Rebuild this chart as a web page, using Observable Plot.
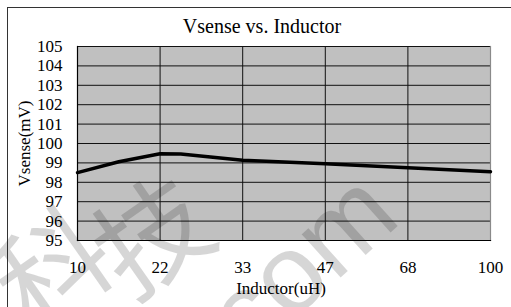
<!DOCTYPE html>
<html>
<head>
<meta charset="utf-8">
<script src="https://cdn.jsdelivr.net/npm/d3@7"></script>
<script src="https://cdn.jsdelivr.net/npm/@observablehq/plot@0.6"></script>
<style>
  html, body { margin: 0; padding: 0; background: #fff; }
  #wrap { position: relative; width: 511px; height: 307px; overflow: hidden; }
  #frame { position: absolute; left: 7px; top: 7px; width: 600px; height: 400px;
           border-left: 1px solid #333; border-top: 1px solid #333; pointer-events: none; }
  #wm { position: absolute; left: 0; top: 0; pointer-events: none; }
  #chart { position: absolute; left: 0; top: 0; }
</style>
</head>
<body>
<div id="wrap">
  <div id="frame"></div>
  <div id="chart"></div>
  <svg id="wm" width="511" height="307">
    <g fill="#000" fill-opacity="0.16" font-family="Noto Sans CJK SC" font-size="112">
      <text x="48" y="262" text-anchor="middle" dominant-baseline="central" transform="rotate(-35 48 262)">科</text>
      <text x="148" y="230" text-anchor="middle" dominant-baseline="central" transform="rotate(-35 148 230)">技</text>
    </g>
    <g fill="#000" fill-opacity="0.16" font-family="Liberation Sans" font-size="110">
      <text x="300" y="262" text-anchor="middle" dominant-baseline="central" transform="rotate(-42 300 262)">com</text>
    </g>
  </svg>
</div>
<script>
const title = "Vsense vs. Inductor";
const xLabel = "Inductor(uH)";
const yLabel = "Vsense(mV)";
const inductorLabels = ["10", "22", "33", "47", "68", "100"];
const yTicks = [95, 96, 97, 98, 99, 100, 101, 102, 103, 104, 105];
// curve points: position along the category axis (0 = "10" … 5 = "100") and Vsense in mV
const pointPos = [0, 0.5, 1, 1.25, 2, 3, 4, 5];
const vsense = [98.5, 99.06, 99.47, 99.46, 99.14, 98.96, 98.75, 98.55];

const points = pointPos.map((p, i) => ({pos: p, v: vsense[i]}));
const xTicks = inductorLabels.map((_, i) => i);
const serif = "Liberation Serif";

const chart = Plot.plot({
  width: 511,
  height: 307,
  marginLeft: 77,
  marginRight: 21,
  marginTop: 46,
  marginBottom: 67,
  style: {fontFamily: serif, fontSize: "17px", color: "#000", background: "transparent"},
  x: {domain: [0, inductorLabels.length - 1]},
  y: {domain: [95, 105]},
  marks: [
    Plot.frame({fill: "#c0c0c0", stroke: null}),
    Plot.gridY(yTicks, {stroke: "#111", strokeOpacity: 1, strokeWidth: 1}),
    Plot.gridX(xTicks, {stroke: "#111", strokeOpacity: 1, strokeWidth: 1}),
    Plot.frame({anchor: "right", stroke: "#8a8a8a", strokeWidth: 1.2}),
    Plot.frame({anchor: "left", stroke: "#000", strokeWidth: 1.2}),
    Plot.frame({anchor: "bottom", stroke: "#000", strokeWidth: 1.2}),
    Plot.line(points, {x: "pos", y: "v", stroke: "#000", strokeWidth: 3.5, strokeLinejoin: "round"}),
    Plot.axisY(yTicks, {tickSize: 0, tickPadding: 15, fontSize: 17, fontFamily: serif, label: null, tickFormat: d => String(d)}),
    Plot.axisX(xTicks, {tickSize: 0, tickPadding: 20, fontSize: 17, fontFamily: serif, label: null, tickFormat: i => inductorLabels[i]}),
    Plot.text([title], {frameAnchor: "top", dx: -22, dy: -14, lineAnchor: "bottom", fontSize: 20, fontFamily: serif}),
    Plot.text([xLabel], {frameAnchor: "bottom", dx: -3, dy: 53, lineAnchor: "bottom", fontSize: 17, fontFamily: serif}),
    Plot.text([yLabel], {frameAnchor: "left", textAnchor: "middle", dx: -53, rotate: -90, lineAnchor: "middle", fontSize: 17, fontFamily: serif})
  ]
});
document.getElementById("chart").appendChild(chart);
</script>
</body>
</html>
